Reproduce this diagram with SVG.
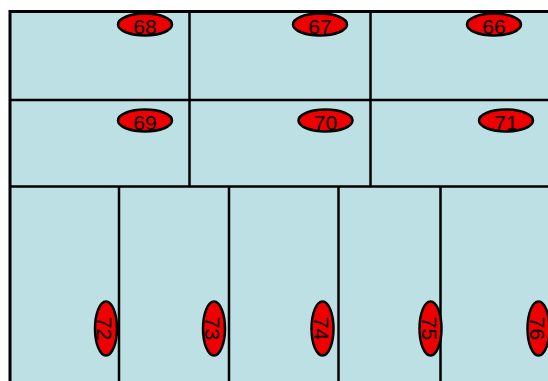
<svg xmlns="http://www.w3.org/2000/svg" width="548" height="381" viewBox="0 0 548 381">
<style>
.line{stroke:#000;stroke-width:2.5;fill:none}
.tag{fill:#ee0000;stroke:#000;stroke-width:2.5}
.lbl{font-family:"Liberation Sans",Arial,sans-serif;font-size:21px;fill:#000;text-anchor:middle;dominant-baseline:central}
</style>
<rect width="548" height="381" fill="#fff"/>
<g id="room">
<rect x="10" y="11.5" width="560" height="400" fill="#bce0e3" stroke="#000" stroke-width="3"/>
</g>
<g id="walls">
<line class="line" x1="10" y1="100" x2="548" y2="100"/>
<line class="line" x1="10" y1="186.5" x2="548" y2="186.5"/>
<line class="line" x1="189.5" y1="11.5" x2="189.5" y2="186.5"/>
<line class="line" x1="370.5" y1="11.5" x2="370.5" y2="186.5"/>
<line class="line" x1="119" y1="186.5" x2="119" y2="381"/>
<line class="line" x1="229" y1="186.5" x2="229" y2="381"/>
<line class="line" x1="338.5" y1="186.5" x2="338.5" y2="381"/>
<line class="line" x1="440.5" y1="186.5" x2="440.5" y2="381"/>
</g>
<g id="n68"><ellipse class="tag" cx="145" cy="24.5" rx="27" ry="11"/><text class="lbl" x="145" y="26">68</text></g>
<g id="n67"><ellipse class="tag" cx="320" cy="24.5" rx="27" ry="11"/><text class="lbl" x="320" y="26">67</text></g>
<g id="n66"><ellipse class="tag" cx="494" cy="24.5" rx="27" ry="11"/><text class="lbl" x="494" y="26">66</text></g>
<g id="n69"><ellipse class="tag" cx="145" cy="120.5" rx="27" ry="11"/><text class="lbl" x="145" y="122">69</text></g>
<g id="n70"><ellipse class="tag" cx="325.5" cy="120.5" rx="27" ry="11"/><text class="lbl" x="325.5" y="122">70</text></g>
<g id="n71"><ellipse class="tag" cx="506" cy="120.5" rx="27" ry="11"/><text class="lbl" x="506" y="122">71</text></g>
<g id="n72"><ellipse class="tag" cx="106" cy="328.5" rx="11" ry="27"/><text class="lbl" transform="translate(106 328.5) rotate(90)" x="0" y="1.5">72</text></g>
<g id="n73"><ellipse class="tag" cx="214" cy="328.5" rx="11" ry="27"/><text class="lbl" transform="translate(214 328.5) rotate(90)" x="0" y="1.5">73</text></g>
<g id="n74"><ellipse class="tag" cx="322.5" cy="328.5" rx="11" ry="27"/><text class="lbl" transform="translate(322.5 328.5) rotate(90)" x="0" y="1.5">74</text></g>
<g id="n75"><ellipse class="tag" cx="430.5" cy="328.5" rx="11" ry="27"/><text class="lbl" transform="translate(430.5 328.5) rotate(90)" x="0" y="1.5">75</text></g>
<g id="n76"><ellipse class="tag" cx="538.5" cy="328.5" rx="11" ry="27"/><text class="lbl" transform="translate(538.5 328.5) rotate(90)" x="0" y="1.5">76</text></g>
</svg>
